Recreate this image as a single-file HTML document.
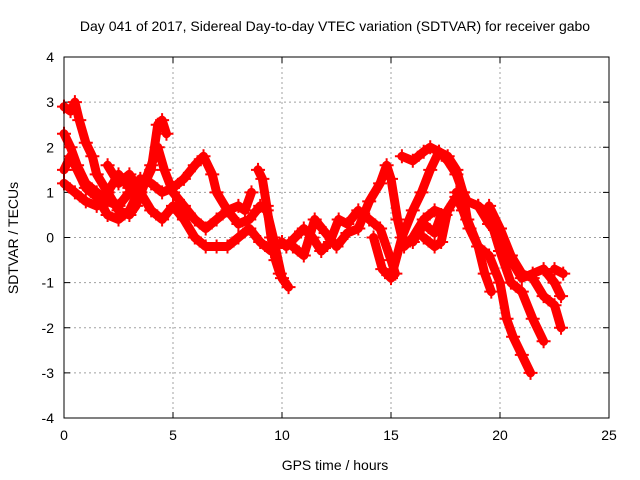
<!DOCTYPE html>
<html><head><meta charset="utf-8"><style>
html,body{margin:0;padding:0;background:#fff;}
svg{display:block;font-family:"Liberation Sans",sans-serif;}
</style></head><body>
<svg id="chart" width="640" height="480">
<text x="335" y="31" text-anchor="middle" font-size="14">Day 041 of 2017, Sidereal Day-to-day VTEC variation (SDTVAR) for receiver gabo</text>
<text x="335" y="470" text-anchor="middle" font-size="14">GPS time / hours</text>
<text x="18" y="238" text-anchor="middle" font-size="14" transform="rotate(-90 18 238)">SDTVAR / TECUs</text>
<g id="grid"></g>
<g id="ticks"></g>
<g id="series"></g>
<rect x="64" y="57" width="545" height="361" fill="none" stroke="#000" stroke-width="1"/>
</svg>
<script>
const xTicks=[0,5,10,15,20,25];
const yTicks=[4,3,2,1,0,-1,-2,-3,-4];
const trackA=[[0,2.9],[0.3,2.8],[0.5,3.0],[0.7,2.6],[1.0,2.1],[1.3,1.8],[1.5,1.4],[2.0,1.0],[2.5,0.6],[3.0,0.5],[3.3,0.7],[3.7,1.2],[4.0,1.5],[4.3,2.5],[4.5,2.6],[4.7,2.3]];
const trackB=[[0,2.3],[0.3,2.0],[0.6,1.6],[1.0,1.2],[1.5,1.0],[2.0,0.8],[2.5,0.7],[3.0,1.0],[3.5,1.3],[4.0,1.2],[4.5,1.0],[5.0,1.1],[5.5,1.3],[6.0,1.6],[6.4,1.8],[6.8,1.4],[7.0,1.0],[7.5,0.6],[8.0,0.3],[8.5,0.4],[9.0,0.7],[9.3,0.6],[9.6,0.0],[10.0,-0.9],[10.3,-1.1]];
const trackC=[[0,1.2],[0.5,1.0],[1.0,0.8],[1.5,0.7],[2.0,1.0],[2.5,1.4],[3.0,1.1],[3.5,1.0],[4.0,0.6],[4.5,0.4],[5.0,0.7],[5.5,0.4],[6.0,0.0],[6.5,-0.2],[7.0,-0.2],[7.5,-0.2],[8.0,0.0],[8.5,0.2],[9.0,-0.1],[9.5,-0.3],[10.0,-0.1]];
const trackC2=[[0,1.5],[0.3,1.8],[0.6,1.5],[1.0,1.1],[1.5,0.9],[2.0,0.5],[2.5,0.4],[3.0,0.6],[3.5,1.1]];
const trackD=[[2.0,1.6],[2.5,1.2],[3.0,1.4],[3.5,1.0],[4.0,1.6],[4.3,2.0],[4.6,1.5],[5.0,1.0],[5.5,0.7],[6.0,0.4],[6.5,0.2],[7.0,0.4],[7.5,0.6],[8.0,0.7],[8.3,0.6],[8.6,1.0]];
const trackE=[[8.9,1.5],[9.1,1.3],[9.3,0.7],[9.5,0.0],[9.7,-0.5],[9.9,-0.8]];
const trackF=[[10.2,-0.2],[10.6,0.0],[11.0,0.2],[11.4,0.0],[11.8,-0.3],[12.2,-0.1],[12.6,0.4],[13.0,0.3],[13.5,0.6],[14.0,0.4],[14.5,0.2],[15.0,-0.5],[15.2,-0.8]];
const trackG=[[10.5,-0.2],[11.0,-0.4],[11.5,0.4],[12.0,0.1],[12.5,-0.2],[13.0,0.1],[13.5,0.2],[14.0,0.8],[14.5,1.2],[14.8,1.6],[15.0,1.3],[15.3,0.4],[15.6,-0.2],[16.0,0.0],[16.5,0.4],[17.0,0.6],[17.5,0.5]];
const trackH=[[15.5,1.8],[16.0,1.7],[16.5,1.9],[16.8,2.0],[17.2,1.9],[17.6,1.7],[18.0,1.4],[18.3,1.0],[18.5,0.8],[19.0,0.7],[19.5,0.3],[20.0,0.0],[20.5,-0.5],[21.0,-0.9],[21.5,-0.8],[22.0,-0.7],[22.5,-1.0],[22.8,-1.3]];
const trackI=[[14.2,0.0],[14.6,-0.7],[15.0,-0.9],[15.5,0.0],[16.0,0.6],[16.4,1.0],[16.8,1.5],[17.2,1.9],[17.6,1.8],[18.0,1.5],[18.3,1.0],[18.5,0.4],[19.0,-0.2],[19.3,-0.8],[19.6,-1.2]];
const trackJ=[[16.5,0.0],[17.0,-0.2],[17.3,-0.1],[17.6,0.6],[18.0,0.9],[18.3,0.6],[18.6,0.2],[19.0,-0.2],[19.5,-0.4],[20.0,-1.0],[20.3,-1.8],[20.6,-2.2],[21.0,-2.6],[21.4,-3.0]];
const trackK=[[18.0,1.0],[18.5,0.8],[19.0,0.7],[19.5,0.5],[20.0,-0.3],[20.5,-1.0],[21.0,-1.2],[21.5,-1.8],[22.0,-2.3]];
const trackL=[[19.5,0.7],[20.0,0.2],[20.5,-0.4],[21.0,-0.8],[21.5,-0.9],[22.0,-1.3],[22.5,-1.5],[22.8,-2.0]];
const trackM=[[22.5,-0.7],[22.9,-0.8]];
const trackN=[[16.0,-0.1],[16.5,0.3],[17.0,0.1],[17.3,0.5]];
const tracks=[trackA,trackB,trackC,trackC2,trackD,trackE,trackF,trackG,trackH,trackI,trackJ,trackK,trackL,trackM,trackN];

const X0=64,X1=609,Y0=418,Y1=57;
function xs(t){return X0+(t-0)/(25-0)*(X1-X0);}
function ys(v){return Y0-(v+4)/8*(Y0-Y1);}
const NS="http://www.w3.org/2000/svg";
const grid=document.getElementById('grid'),ticks=document.getElementById('ticks'),ser=document.getElementById('series');
function mk(tag,attrs,parent){const e=document.createElementNS(NS,tag);for(const k in attrs)e.setAttribute(k,attrs[k]);parent.appendChild(e);return e;}
xTicks.forEach(t=>{
  const x=xs(t);
  if(t>0&&t<25){const g=mk('line',{x1:x,x2:x,y1:Y1,y2:Y0,stroke:'#a0a0a0','stroke-dasharray':'2,3'},grid);
  
  }
  mk('line',{x1:x,x2:x,y1:Y0,y2:Y0-6,stroke:'#000'},ticks);
  mk('line',{x1:x,x2:x,y1:Y1,y2:Y1+6,stroke:'#000'},ticks);
  const l=mk('text',{x:x,y:Y0+22,'text-anchor':'middle','font-size':'14'},ticks);
  l.textContent=t;
  
  
});
yTicks.forEach(v=>{
  const y=ys(v);
  if(v>-4&&v<4){const g=mk('line',{x1:X0,x2:X1,y1:y,y2:y,stroke:'#a0a0a0','stroke-dasharray':'2,3'},grid);
  
  }
  mk('line',{x1:X0,x2:X0+6,y1:y,y2:y,stroke:'#000'},ticks);
  mk('line',{x1:X1,x2:X1-6,y1:y,y2:y,stroke:'#000'},ticks);
  const l=mk('text',{x:X0-10,y:y+5,'text-anchor':'end','font-size':'14'},ticks);
  l.textContent=v;
  
  
});
tracks.forEach(tr=>{
  const p=mk('polyline',{points:tr.map(d=>xs(d[0])+','+ys(d[1])).join(' '),fill:'none',stroke:'#ff0000','stroke-width':'9','stroke-linejoin':'round','stroke-linecap':'round'},ser);
  
  
  tr.forEach(d=>{
    const x=xs(d[0]),y=ys(d[1]);
    const m=mk('path',{d:`M${x-7},${y}H${x+7}M${x},${y-7}V${y+7}`,stroke:'#ff0000','stroke-width':'2'},ser);
    
    
  });
});
</script>
</body></html>
